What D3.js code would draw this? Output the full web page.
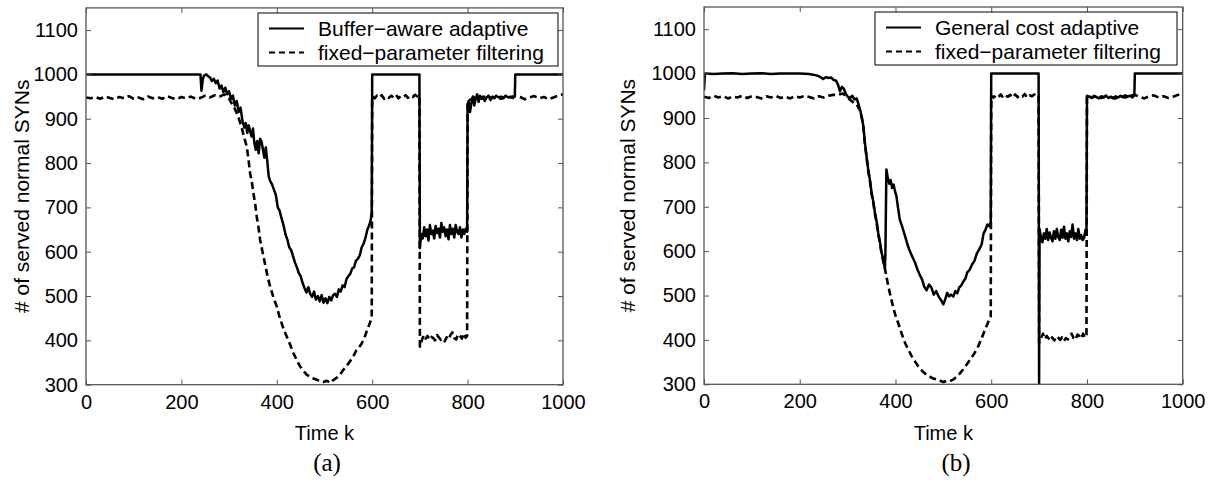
<!DOCTYPE html>
<html>
<head>
<meta charset="utf-8">
<script src="https://cdn.jsdelivr.net/npm/d3@7"></script>
<style>
  body { margin: 0; background: #fff; }
  svg { display: block; }
  .tick text { font-family: "Liberation Sans", Arial, sans-serif; font-size: 20px; fill: #000; }
</style>
</head>
<body>
<div id="chart"></div>
<script>
const xTicks = [0, 200, 400, 600, 800, 1000];
const yTicks = [300, 400, 500, 600, 700, 800, 900, 1000, 1100];

// panel (a): solid line
const bufferAware = [
  [0,1000],[240,1000],[242,963],[245,990],[248,998],[252,1000],[256,996],[260,993],[264,985],[268,990],
  [272,980],[276,986],[280,968],[284,975],[288,960],[292,970],[296,955],[300,962],[304,945],[308,952],
  [312,930],[316,940],[320,915],[324,925],[328,895],[332,880],[335,890],[338,868],[341,885],[344,872],
  [347,860],[350,878],[353,845],[356,830],[359,850],[362,822],[365,855],[368,848],[371,830],[374,812],
  [377,835],[380,805],[383,770],[386,760],[390,752],[394,740],[398,728],[402,700],[406,692],[410,675],
  [414,660],[418,640],[422,628],[426,610],[430,604],[434,590],[438,576],[442,565],[446,552],[450,545],
  [454,530],[458,518],[462,508],[466,520],[470,505],[474,498],[478,510],[482,492],[486,500],[490,488],
  [494,502],[498,485],[502,495],[506,484],[510,498],[514,490],[518,502],[522,505],[526,498],[530,515],
  [534,510],[538,524],[542,520],[546,538],[550,545],[554,550],[558,562],[562,565],[566,580],[570,584],
  [574,592],[578,610],[582,618],[586,632],[590,650],[594,660],[597,672],[599,690],[600,1000],[699,1000],
  [700,608],[703,640],[706,630],[709,655],[712,635],[715,650],[718,625],[721,660],[724,640],[727,648],
  [730,630],[733,658],[736,642],[739,652],[742,632],[745,665],[748,645],[751,655],[754,635],[757,650],
  [760,628],[763,660],[766,640],[769,652],[772,632],[775,660],[778,645],[781,640],[784,655],[787,632],
  [790,650],[793,640],[796,652],[799,645],[800,928],[802,940],[805,915],[808,935],[811,950],[814,930],
  [817,945],[820,955],[823,938],[826,952],[829,945],[832,950],[836,940],[840,948],[844,952],[848,942],
  [852,950],[856,946],[860,952],[865,948],[870,950],[875,946],[880,952],[885,948],[890,950],[895,947],
  [899,950],[900,1000],[1000,1000]
];

// panel (a): dashed line
const fixedA = [
  [0,948],[10,946],[20,949],[30,945],[40,950],[50,947],[60,944],[70,949],[80,946],[90,951],
  [100,945],[110,948],[120,944],[130,950],[140,946],[150,949],[160,945],[170,951],[180,947],[190,944],
  [200,949],[210,946],[220,950],[230,945],[240,947],[250,952],[260,948],[270,953],[280,950],[290,955],
  [300,945],[305,935],[310,927],[315,915],[320,902],[326,882],[331,860],[337,837],[341,805],[344,777],
  [348,755],[351,732],[355,705],[358,679],[362,652],[365,627],[370,600],[375,574],[380,548],[386,521],
  [393,497],[400,476],[405,456],[410,439],[415,423],[421,408],[428,390],[435,371],[442,355],[449,341],
  [456,331],[463,322],[470,318],[477,314],[484,311],[491,308],[498,306],[505,309],[512,304],[519,311],
  [526,316],[532,322],[539,333],[546,342],[553,352],[560,363],[566,376],[572,384],[578,393],[585,410],
  [590,425],[594,436],[597,445],[599,453],[600,950],[605,946],[610,952],[615,948],[620,953],[625,945],
  [630,950],[635,947],[640,952],[645,948],[650,954],[655,946],[660,951],[665,949],[670,953],[675,947],
  [680,952],[685,949],[690,954],[695,950],[699,952],[700,386],[704,400],[708,412],[712,404],[716,410],
  [720,402],[724,408],[728,405],[732,400],[736,412],[740,406],[744,401],[748,404],[752,398],[756,407],
  [760,402],[764,412],[768,418],[772,405],[776,402],[780,414],[784,410],[788,404],[792,416],[796,406],
  [799,410],[800,940],[810,945],[820,950],[830,946],[840,952],[850,947],[860,950],[870,945],[880,951],
  [890,948],[900,952],[910,949],[920,944],[930,948],[940,951],[950,946],[960,949],[970,944],[980,948],
  [990,952],[1000,955]
];

// panel (b): solid line
const generalCost = [
  [0,962],[2,1000],[20,999],[40,1000],[60,1001],[80,999],[100,1000],[120,1001],[140,999],[160,1000],
  [180,1000],[200,1000],[220,999],[235,996],[242,993],[249,988],[255,992],[260,990],[266,991],[270,986],
  [276,984],[280,975],[284,960],[288,970],[292,966],[296,955],[300,948],[305,945],[310,950],[314,942],
  [319,944],[323,930],[326,919],[330,900],[333,881],[336,845],[340,810],[343,784],[347,758],[350,732],
  [354,710],[357,687],[361,664],[364,641],[368,618],[371,596],[374,585],[376,570],[378,562],[379,600],
  [381,784],[384,765],[387,752],[390,760],[393,742],[396,750],[399,735],[402,724],[405,700],[409,671],
  [414,655],[420,634],[425,615],[430,600],[435,588],[441,574],[446,558],[451,546],[456,535],[460,520],
  [465,512],[470,525],[475,518],[480,502],[485,510],[490,498],[495,490],[500,480],[504,492],[508,506],
  [512,498],[516,502],[521,498],[525,510],[529,505],[533,518],[537,522],[542,532],[546,538],[550,552],
  [555,558],[560,570],[565,578],[570,595],[575,604],[580,615],[584,640],[588,648],[592,660],[596,656],
  [599,665],[600,1000],[699,1000],[700,300],[701,650],[704,630],[707,620],[710,640],[713,628],[716,650],
  [719,625],[722,642],[725,630],[728,622],[731,645],[734,628],[737,650],[740,632],[743,625],[746,648],
  [749,630],[752,655],[755,628],[758,640],[761,622],[764,645],[767,632],[770,660],[773,628],[776,640],
  [779,625],[782,650],[785,628],[788,636],[791,625],[794,630],[797,648],[799,640],[800,950],[805,948],
  [810,945],[815,950],[820,947],[825,944],[830,949],[835,946],[840,950],[845,945],[850,948],[855,944],
  [860,949],[865,946],[870,950],[875,947],[880,951],[885,948],[890,950],[895,946],[899,951],[900,1000],
  [1000,1000]
];

// panel (b): dashed line
const fixedB = [
  [0,948],[10,945],[20,950],[30,946],[40,949],[50,944],[60,948],[70,946],[80,950],[90,945],
  [100,949],[110,947],[120,944],[130,949],[140,946],[150,950],[160,945],[170,948],[180,944],[190,949],
  [200,946],[210,950],[220,947],[230,944],[240,949],[250,946],[260,950],[270,952],[280,952],[290,955],
  [300,946],[305,941],[312,935],[319,930],[326,917],[330,898],[333,878],[336,843],[340,808],[343,781],
  [347,755],[350,729],[354,707],[357,684],[361,661],[364,638],[368,615],[371,593],[375,575],[378,560],
  [385,521],[390,497],[395,475],[400,455],[406,437],[413,414],[420,393],[427,378],[434,363],[441,351],
  [448,340],[456,330],[465,321],[472,317],[479,313],[486,311],[493,308],[500,305],[507,308],[514,307],
  [521,311],[529,318],[538,329],[547,342],[556,356],[565,370],[573,386],[580,404],[587,423],[592,436],
  [596,446],[599,453],[600,950],[605,946],[610,951],[615,947],[620,953],[625,945],[630,950],[635,948],
  [640,952],[645,946],[650,953],[655,947],[660,951],[665,948],[670,954],[675,946],[680,951],[685,949],
  [690,953],[695,948],[699,950],[700,393],[704,405],[708,414],[712,402],[716,409],[720,403],[724,410],
  [728,404],[732,399],[736,408],[740,405],[744,400],[748,406],[752,398],[756,404],[760,401],[764,410],
  [768,414],[772,404],[776,400],[780,412],[784,409],[788,403],[792,414],[796,405],[799,412],[800,950],
  [810,946],[820,949],[830,945],[840,950],[850,947],[860,944],[870,949],[880,946],[890,950],[900,952],
  [910,948],[920,944],[930,949],[940,951],[950,946],[960,949],[970,945],[980,948],[990,952],[1000,955]
];

const panels = [
  { id: "a", left: 86, right: 563, top: 7.9, bottom: 384.7, yLabelX: 28.5, capX: 327,
    legend: { x: 258, y: 13, w: 300, h: 53 },
    series: [
      { name: "Buffer\u2212aware adaptive", data: bufferAware, dash: null },
      { name: "fixed\u2212parameter filtering", data: fixedA, dash: "6,4" }
    ] },
  { id: "b", left: 704, right: 1182.7, top: 7.0, bottom: 384.3, yLabelX: 635, capX: 956,
    legend: { x: 875, y: 12, w: 302, h: 53 },
    series: [
      { name: "General cost adaptive", data: generalCost, dash: null },
      { name: "fixed\u2212parameter filtering", data: fixedB, dash: "6,4" }
    ] }
];

const width = 1214;
const height = 487;
const font = '"Liberation Sans", Arial, sans-serif';

const svg = d3.select("#chart")
  .append("svg")
  .attr("width", width)
  .attr("height", height);

panels.forEach((p) => {
  const x = d3.scaleLinear().domain([0, 1000]).range([p.left, p.right]);
  const y = d3.scaleLinear().domain([300, 1150]).range([p.bottom, p.top]);
  const g = svg.append("g");

  // clip so lines stay inside the box
  g.append("clipPath")
    .attr("id", "clip-" + p.id)
    .append("rect")
    .attr("x", p.left)
    .attr("y", p.top)
    .attr("width", p.right - p.left)
    .attr("height", p.bottom - p.top);

  const line = d3.line().x((d) => x(d[0])).y((d) => y(d[1]));

  // draw dashed first, solid on top
  p.series.slice().reverse().forEach((s) => {
    g.append("path")
      .datum(s.data)
      .attr("clip-path", `url(#clip-${p.id})`)
      .attr("d", line)
      .attr("fill", "none")
      .attr("stroke", "#000")
      .attr("stroke-width", s.dash ? 2.6 : 2.5)
      .attr("stroke-linejoin", "round")
      .attr("stroke-dasharray", s.dash ? "7,4" : null);
  });

  // axes with inward ticks
  const axisStyle = (a) => {
    a.select(".domain").remove();
    a.selectAll(".tick line").attr("stroke", "#555");
  };
  const fmt = d3.format("d");
  g.append("g")
    .attr("transform", `translate(0,${p.bottom})`)
    .call(d3.axisBottom(x).tickValues(xTicks).tickFormat(fmt).tickSize(-5).tickPadding(10))
    .call(axisStyle);
  g.append("g")
    .attr("transform", `translate(${p.left},0)`)
    .call(d3.axisLeft(y).tickValues(yTicks).tickFormat(fmt).tickSize(-5).tickPadding(8))
    .call(axisStyle);
  g.append("g")
    .attr("transform", `translate(0,${p.top})`)
    .call(d3.axisTop(x).tickValues(xTicks).tickSize(-5).tickFormat(""))
    .call(axisStyle);
  g.append("g")
    .attr("transform", `translate(${p.right},0)`)
    .call(d3.axisRight(y).tickValues(yTicks).tickSize(-5).tickFormat(""))
    .call(axisStyle);

  g.selectAll(".tick text").attr("font-family", font).attr("font-size", 20);

  g.append("rect")
    .attr("x", p.left)
    .attr("y", p.top)
    .attr("width", p.right - p.left)
    .attr("height", p.bottom - p.top)
    .attr("fill", "none")
    .attr("stroke", "#555")
    .attr("stroke-width", 1.3);

  // axis titles
  g.append("text")
    .attr("x", (p.left + p.right) / 2)
    .attr("y", 440)
    .attr("text-anchor", "middle")
    .attr("font-family", font)
    .attr("font-size", 20)
    .text("Time k");

  g.append("text")
    .attr("transform", `translate(${p.yLabelX},${(p.top + p.bottom) / 2}) rotate(-90)`)
    .attr("text-anchor", "middle")
    .attr("font-family", font)
    .attr("font-size", 21)
    .text("# of served normal SYNs");

  g.append("text")
    .attr("x", p.capX)
    .attr("y", 471)
    .attr("text-anchor", "middle")
    .attr("font-family", '"Liberation Serif", "Times New Roman", serif')
    .attr("font-size", 25)
    .text(`(${p.id})`);

  // legend
  const lg = g.append("g").attr("transform", `translate(${p.legend.x},${p.legend.y})`);
  lg.append("rect")
    .attr("width", p.legend.w)
    .attr("height", p.legend.h)
    .attr("fill", "#fff")
    .attr("stroke", "#000")
    .attr("stroke-width", 1);
  p.series.forEach((s, i) => {
    const ly = 15.5 + i * 24;
    lg.append("line")
      .attr("x1", 11)
      .attr("x2", 46)
      .attr("y1", ly)
      .attr("y2", ly)
      .attr("stroke", "#000")
      .attr("stroke-width", 2.2)
      .attr("stroke-dasharray", s.dash);
    lg.append("text")
      .attr("x", 60)
      .attr("y", ly + 7)
      .attr("font-family", font)
      .attr("font-size", 21)
      .text(s.name);
  });
});
</script>
</body>
</html>
